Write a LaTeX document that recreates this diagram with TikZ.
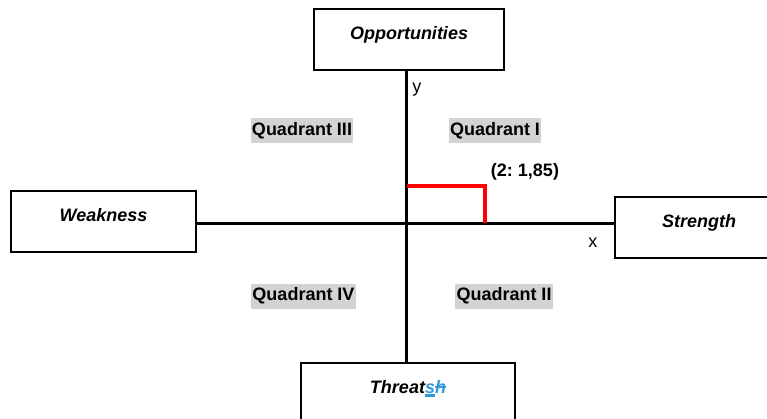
\documentclass[tikz,border=0pt]{standalone}
\usepackage{fontspec}
\setmainfont{Liberation Sans}
\definecolor{hlgray}{HTML}{D3D3D3}
\definecolor{trackblue}{HTML}{3399DD}
\newsavebox\trackbox
\newcommand{\insmark}[1]{\sbox\trackbox{#1}\rlap{\usebox\trackbox}\rule[-0.2em]{\wd\trackbox}{0.12em}}
\newcommand{\delmark}[1]{\sbox\trackbox{#1}\rlap{\usebox\trackbox}\rule[0.3em]{\wd\trackbox}{0.07em}}
\begin{document}
\begin{tikzpicture}[x=0.75pt,y=-0.75pt,
	every node/.style={font=\fontsize{13.5}{16}\selectfont},
	swotbox/.style={draw,line width=1.5pt,anchor=north west,inner sep=0pt,
		text height=22.5pt,text depth=23.25pt,font=\fontsize{13.5}{16}\selectfont\bfseries\itshape},
	quadlabel/.style={fill=hlgray,inner xsep=1.1pt,inner ysep=0pt,minimum height=18.75pt,
		font=\fontsize{13.5}{16}\selectfont\bfseries},
	axis/.style={line width=2.25pt}]
\useasboundingbox (0,0) rectangle (767,418);
\clip (0,0) rectangle (767,418);
\node[swotbox,minimum width=142.5pt] (opp) at (313,8) {Opportunities};
\node[swotbox,minimum width=138.75pt] (weak) at (10,190) {Weakness};
\node[swotbox,minimum width=126pt] (str) at (614,196) {Strength};
\node[swotbox,minimum width=160.5pt] (thr) at (300,362)
	{Threat\textcolor{trackblue}{\insmark{s}\delmark{h}}};
\coordinate (o) at (406.5,223);
\coordinate (pt) at (485,186);
\draw[axis] (o |- opp.south) -- (o |- thr.north);
\draw[axis] (weak.east |- o) -- (str.west |- o);
\draw[red,line width=3pt] (o |- pt) -- (pt) -- (pt |- o);
\node[anchor=base west,inner sep=0pt] (ylab) at (412,92) {y};
\node[anchor=base west,inner sep=0pt] (xlab) at (588,247) {x};
\node[font=\fontsize{13.5}{16}\selectfont\bfseries] (pval) at (525,172) {(2:\ 1,85)};
\node[quadlabel] (q3) at (302,130.5) {Quadrant III};
\node[quadlabel] (q1) at (495,130.5) {Quadrant I};
\node[quadlabel] (q4) at (303.5,296) {Quadrant IV};
\node[quadlabel] (q2) at (504,296) {Quadrant II};
\end{tikzpicture}
\end{document}
